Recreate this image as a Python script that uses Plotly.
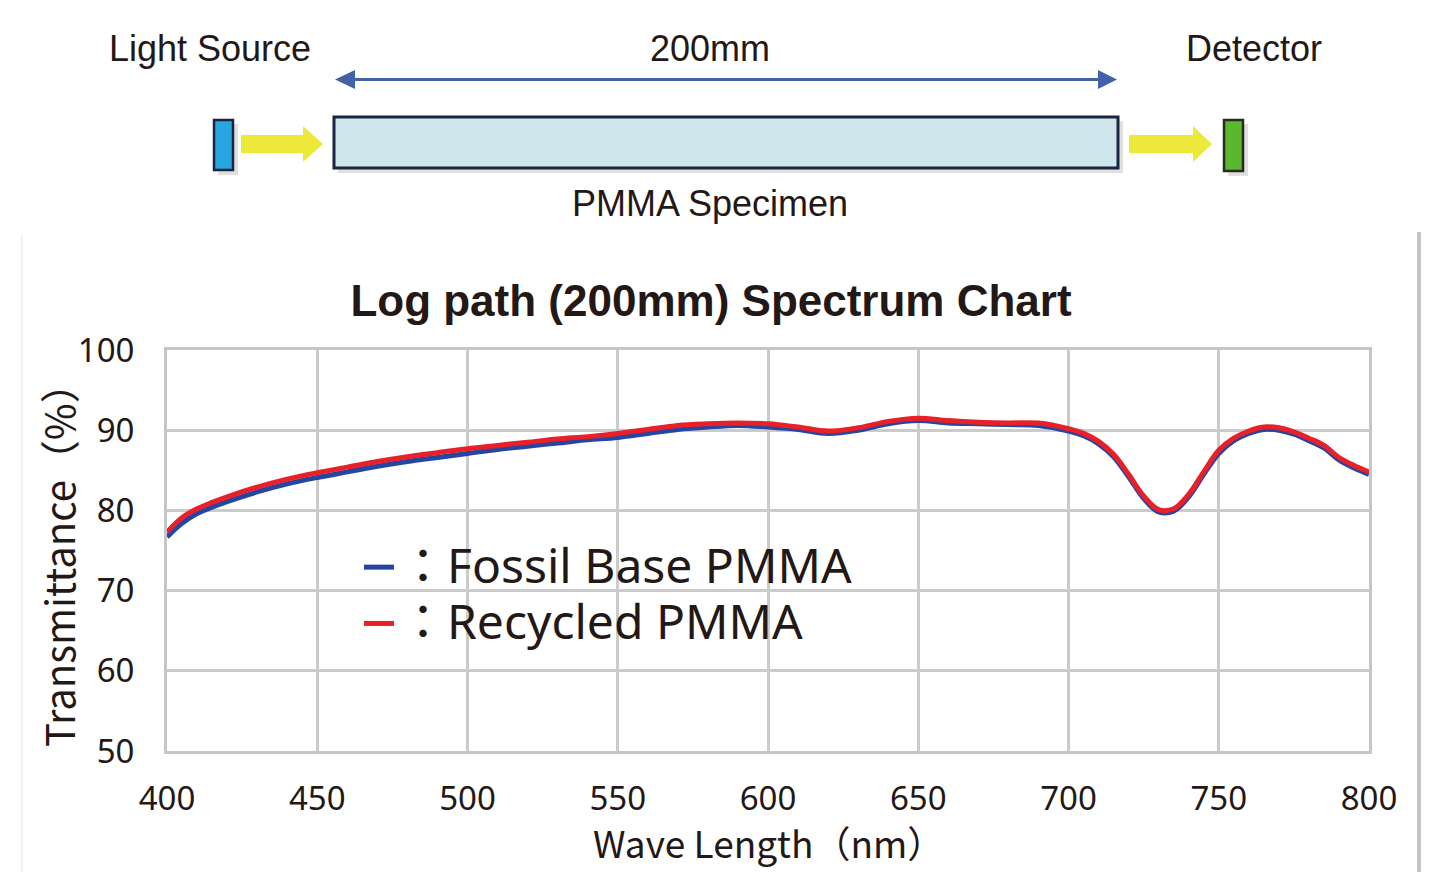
import plotly.graph_objects as go

# ---------------- data ----------------
wavelength = [400, 405, 410, 415, 420, 430, 440, 450, 460, 470, 480, 490, 500,
              510, 520, 530, 540, 550, 560, 570, 580, 590, 600, 610, 620, 630,
              640, 650, 660, 670, 680, 690, 700, 705, 710, 715, 720, 725, 730,
              735, 740, 745, 750, 755, 760, 765, 770, 775, 780, 785, 790, 795, 800]

recycled = [77.3, 79.1, 80.2, 81.0, 81.7, 82.9, 83.9, 84.7, 85.4, 86.1, 86.7, 87.2, 87.7,
            88.1, 88.5, 88.9, 89.2, 89.6, 90.1, 90.6, 90.8, 90.9, 90.8, 90.4, 89.9, 90.3,
            91.1, 91.5, 91.2, 91.0, 90.9, 90.9, 90.2, 89.6, 88.6, 87.0, 84.5, 81.8, 80.1,
            80.2, 82.0, 84.8, 87.5, 89.0, 89.9, 90.4, 90.3, 89.8, 89.0, 88.1, 86.6, 85.6, 84.8]

fossil = [76.7, 78.4, 79.6, 80.4, 81.1, 82.3, 83.3, 84.1, 84.8, 85.5, 86.1, 86.6, 87.1,
          87.6, 88.0, 88.4, 88.8, 89.1, 89.6, 90.1, 90.4, 90.6, 90.4, 90.1, 89.6, 90.0,
          90.8, 91.2, 90.9, 90.8, 90.7, 90.6, 89.9, 89.3, 88.3, 86.7, 84.2, 81.5, 79.8,
          79.9, 81.7, 84.5, 87.1, 88.7, 89.6, 90.1, 90.0, 89.5, 88.7, 87.8, 86.3, 85.3, 84.5]

series_names = ["Fossil Base PMMA", "Recycled PMMA"]
x_ticks = [400, 450, 500, 550, 600, 650, 700, 750, 800]
y_ticks = [50, 60, 70, 80, 90, 100]

TXT = "#231815"
OFF = 8                      # page body margin of the html page
W, H = 1439 - OFF, 872 - OFF
L, R, T, B = 167, 1369, 350, 751   # plot area in window pixels


def px(x):
    return (x - L) / (R - L)


def py(y):
    return (B - y) / (B - T)


def legend_label(name):
    return f'<span style="font-size:48px">：{name}</span>'


fig = go.Figure()
fig.add_trace(go.Scatter(x=wavelength, y=fossil, name=legend_label(series_names[0]), mode="lines",
                         line=dict(color="#2446a2", width=5, shape="spline", smoothing=1)))
fig.add_trace(go.Scatter(x=wavelength, y=recycled, name=legend_label(series_names[1]), mode="lines",
                         line=dict(color="#e8202a", width=5, shape="spline", smoothing=1)))

shapes = []


def rect(x0, y0, x1, y1, fill, line_color, lw, layer="above"):
    shapes.append(dict(type="rect", xref="paper", yref="paper",
                       x0=px(x0), x1=px(x1), y0=py(y1), y1=py(y0),
                       fillcolor=fill, line=dict(color=line_color, width=lw), layer=layer))


def poly(points, fill, line_color=None, lw=0):
    d = "M " + " L ".join(f"{px(a):.5f},{py(b):.5f}" for a, b in points) + " Z"
    shapes.append(dict(type="path", xref="paper", yref="paper", path=d,
                       fillcolor=fill, line=dict(color=line_color or fill, width=lw), layer="above"))


def shadow_rect(x0, y0, x1, y1):
    shapes.append(dict(type="rect", xref="paper", yref="paper",
                       x0=px(x0 + 4), x1=px(x1 + 5), y0=py(y1 + 5), y1=py(y0 + 4),
                       fillcolor="rgba(0,0,0,0.12)", line=dict(width=0), layer="above"))


# legend backdrop (covers grid, below traces)
rect(335, 532, 895, 657, "rgba(255,255,255,0.85)", "rgba(0,0,0,0)", 0, layer="below")

# panel frame edges
shapes.append(dict(type="line", xref="paper", yref="paper", x0=px(1419), x1=px(1419),
                   y0=py(232), y1=py(872), line=dict(color="#c4c4c4", width=4)))
shapes.append(dict(type="line", xref="paper", yref="paper", x0=px(22), x1=px(22),
                   y0=py(235), y1=py(872), line=dict(color="#f2f2f2", width=2)))

# light source
shadow_rect(214, 120, 233, 170)
rect(214, 120, 233, 170, "#27a6df", "#1b2440", 2.5)
# yellow arrow 1
poly([(241, 135), (303, 135), (303, 126), (323, 144), (303, 162), (303, 153), (241, 153)],
     "#ede93a")
# specimen
shadow_rect(334, 117, 1118, 168)
rect(334, 117, 1118, 168, "#cfe6ec", "#1b2440", 3)
# yellow arrow 2
poly([(1129, 135), (1193, 135), (1193, 126), (1212, 144), (1193, 162), (1193, 153), (1129, 153)],
     "#ede93a")
# detector
shadow_rect(1224, 120, 1243, 171)
rect(1224, 120, 1243, 171, "#5bb72d", "#2a2a22", 2.5)
# double arrow (200mm)
shapes.append(dict(type="line", xref="paper", yref="paper", x0=px(350), x1=px(1102),
                   y0=py(79.5), y1=py(79.5), line=dict(color="#4161a9", width=3), layer="above"))
poly([(335, 79.5), (355, 70), (355, 89)], "#4161a9")
poly([(1117, 79.5), (1098, 70), (1098, 89)], "#4161a9")

annotations = []


def label(text, x, y, size=36, family="Liberation Sans, Arial", angle=0):
    annotations.append(dict(text=text, xref="paper", yref="paper", x=px(x), y=py(y),
                            xanchor="center", yanchor="middle", showarrow=False,
                            textangle=angle,
                            font=dict(family=family, size=size, color=TXT)))


label("Light Source", 210, 48)
label("200mm", 710, 48)
label("Detector", 1254, 48)
label("PMMA Specimen", 710, 203)
# axis titles
label("Wave Length（nm）", 768, 842, size=37, family="Noto Sans CJK JP")
label("Transmittance（%）", 58, 555, size=40, family="Noto Sans CJK JP", angle=-90)

fig.update_layout(
    width=W, height=H, autosize=False,
    margin=dict(l=L - OFF, r=W - (R - OFF), t=T - OFF, b=H - (B - OFF)),
    paper_bgcolor="white", plot_bgcolor="white",
    title=dict(text="<b>Log path (200mm) Spectrum Chart</b>", xref="container", yref="container",
               x=(711 - OFF) / W, xanchor="center",
               y=1 - (301 - OFF) / H, yanchor="middle",
               font=dict(family="Liberation Sans, Arial", size=44, color=TXT)),
    shapes=shapes, annotations=annotations,
    showlegend=True,
    legend=dict(x=px(359), y=py(534), xanchor="left", yanchor="top",
                bgcolor="rgba(0,0,0,0)", borderwidth=0, itemwidth=30,
                font=dict(family="Noto Sans, Noto Sans CJK JP", size=41, color=TXT)),
    xaxis=dict(range=[400, 800], tickvals=x_ticks, ticktext=[str(v) for v in x_ticks],
               showgrid=True, gridcolor="#cbcbcb", gridwidth=2.5,
               showline=True, mirror=True, linecolor="#c6c6c6", linewidth=3,
               zeroline=False, ticks="", ticklabelstandoff=16,
               tickfont=dict(family="Noto Sans", size=33, color=TXT)),
    yaxis=dict(range=[50, 100], tickvals=y_ticks, ticktext=[str(v) for v in y_ticks],
               showgrid=True, gridcolor="#cbcbcb", gridwidth=2.5,
               showline=True, mirror=True, linecolor="#c6c6c6", linewidth=3,
               zeroline=False, ticks="", ticklabelstandoff=23,
               tickfont=dict(family="Noto Sans", size=33, color=TXT)),
)

fig.write_html("out.html")
